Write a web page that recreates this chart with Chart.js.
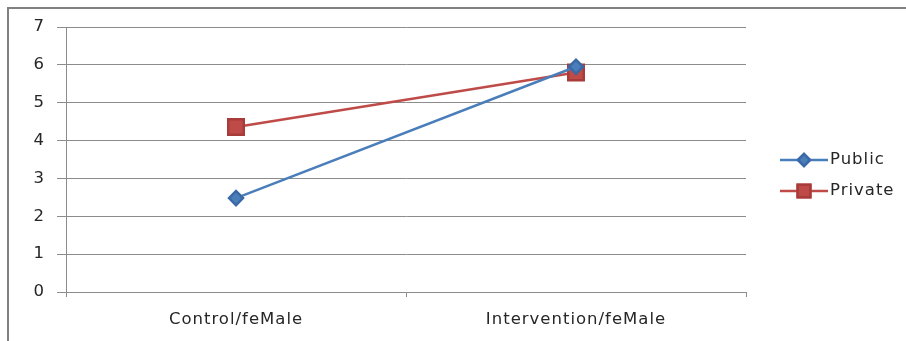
<!DOCTYPE html>
<html>
<head>
<meta charset="utf-8">
<script src="https://cdn.jsdelivr.net/npm/chart.js@4/dist/chart.umd.min.js"></script>
<style>
  html, body { margin: 0; padding: 0; background: #ffffff; }
  #wrap { position: relative; width: 906px; height: 341px; }
</style>
</head>
<body>
<div id="wrap"><canvas id="chart"></canvas></div>
<script>
// Group labels along the x axis
const categories = ['Control/feMale', 'Intervention/feMale'];
// Mean score per school type
const publicValues = [2.48, 5.95];
const privateValues = [4.36, 5.8];
// Value axis range
const yTicks = [0, 1, 2, 3, 4, 5, 6, 7];

const BLUE = '#4A7EBB';
const RED = '#BE4B48';
const GRID = '#8c8c8c';
const TEXT = '#262626';
const FONT = "'DejaVu Sans', 'Liberation Sans', sans-serif";
const FONT_SIZE = 16.5;

// Slightly widened lettering for all chart text
const spacingPlugin = {
  id: 'letterSpacing',
  beforeDraw(chart) {
    chart.ctx.letterSpacing = '1px';
  }
};

// Outer frame (top and left edges) plus the legend on the right side
const framePlugin = {
  id: 'frameAndLegend',
  afterDraw(chart) {
    const ctx = chart.ctx;
    ctx.save();
    ctx.strokeStyle = '#808080';
    ctx.lineWidth = 2;
    ctx.beginPath();
    ctx.moveTo(8, 341);
    ctx.lineTo(8, 8);
    ctx.lineTo(906, 8);
    ctx.stroke();

    const items = chart.data.datasets.map((ds, i) => ({ ds, y: i === 0 ? 160 : 191 }));
    items.forEach(({ ds, y }) => {
      ctx.strokeStyle = ds.borderColor;
      ctx.lineWidth = 2.5;
      ctx.beginPath();
      ctx.moveTo(780, y);
      ctx.lineTo(828, y);
      ctx.stroke();
      Chart.helpers.drawPoint(ctx, {
        pointStyle: ds.pointStyle,
        radius: ds.pointStyle === 'rect' ? 9 : 6,
        rotation: 0,
        borderWidth: 1
      }, 804, y);
      ctx.fillStyle = ds.pointBackgroundColor;
      ctx.strokeStyle = ds.pointBorderColor;
      ctx.fill();
      ctx.stroke();
      ctx.fillStyle = TEXT;
      ctx.font = FONT_SIZE + 'px ' + FONT;
      ctx.textBaseline = 'middle';
      ctx.textAlign = 'left';
      ctx.fillText(ds.label, 830, y);
    });
    ctx.restore();
  }
};

new Chart(document.getElementById('chart'), {
  type: 'line',
  data: {
    labels: categories,
    datasets: [
      {
        label: 'Public',
        data: publicValues,
        borderColor: BLUE,
        backgroundColor: BLUE,
        pointBackgroundColor: BLUE,
        pointBorderColor: '#3a6aa6',
        pointStyle: 'rectRot',
        pointRadius: 7,
        borderWidth: 2.5,
        tension: 0
      },
      {
        label: 'Private',
        data: privateValues,
        borderColor: RED,
        backgroundColor: RED,
        pointBackgroundColor: RED,
        pointBorderColor: '#a83c3a',
        pointStyle: 'rect',
        pointRadius: 11,
        borderWidth: 2.5,
        tension: 0
      }
    ]
  },
  options: {
    responsive: true,
    maintainAspectRatio: false,
    animation: false,
    devicePixelRatio: 1,
    layout: { padding: { left: 8, right: 160, top: 27, bottom: 8 } },
    plugins: {
      legend: { display: false },
      tooltip: { enabled: false }
    },
    scales: {
      x: {
        type: 'category',
        offset: true,
        afterFit(scale) { scale.height = 41; },
        grid: {
          offset: true,
          drawOnChartArea: false,
          drawTicks: true,
          tickLength: 5,
          color: GRID
        },
        border: { display: true, color: GRID, width: 1 },
        ticks: {
          color: TEXT,
          font: { family: FONT, size: FONT_SIZE },
          padding: 13
        }
      },
      y: {
        min: 0,
        max: 7,
        afterFit(scale) { scale.width = 58; },
        afterBuildTicks(scale) { scale.ticks = yTicks.map(v => ({ value: v })); },
        grid: {
          color: GRID,
          lineWidth: 1,
          drawTicks: true,
          tickLength: 9
        },
        border: { display: true, color: GRID, width: 1 },
        ticks: {
          color: TEXT,
          font: { family: FONT, size: FONT_SIZE },
          padding: 12
        }
      }
    }
  },
  plugins: [spacingPlugin, framePlugin]
});
</script>
</body>
</html>
